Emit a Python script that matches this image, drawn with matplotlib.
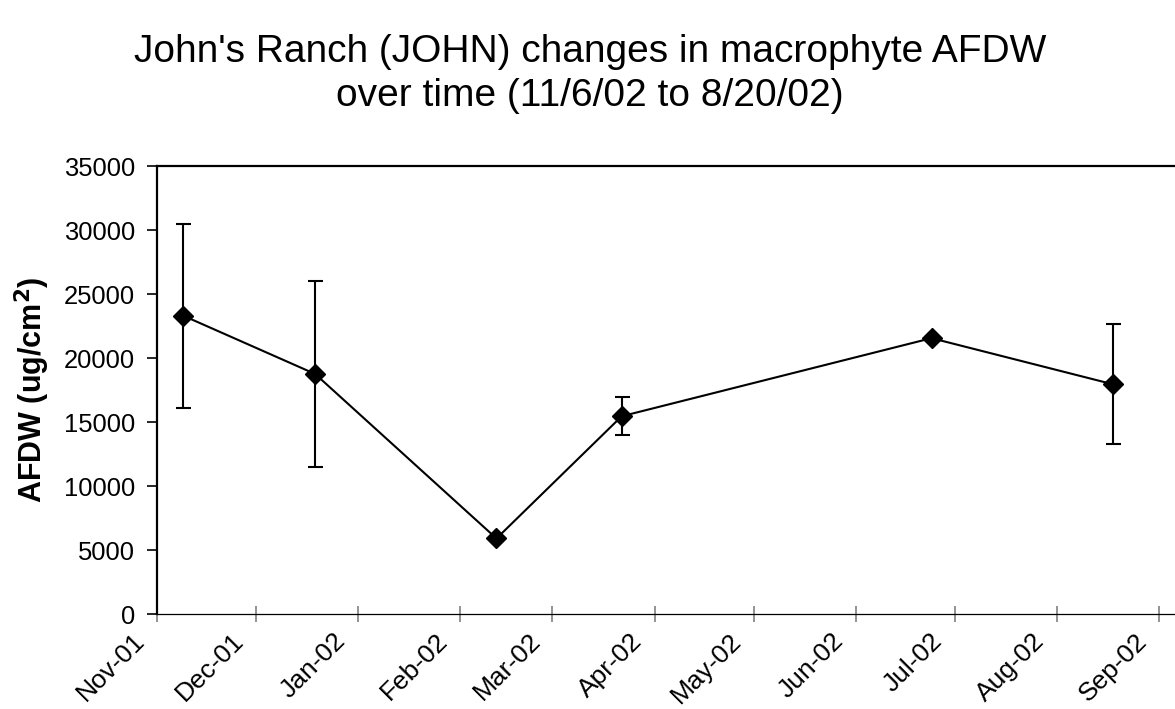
import datetime as dt
import matplotlib
matplotlib.use("Agg")
import matplotlib.pyplot as plt
import matplotlib.dates as mdates
from matplotlib.transforms import ScaledTranslation

plt.rcParams['font.family'] = ['Liberation Sans', 'DejaVu Sans']

# Sampling dates, mean AFDW and standard error per sampling trip
sample_dates = [
    dt.date(2001, 11, 9),
    dt.date(2001, 12, 19),
    dt.date(2002, 2, 12),
    dt.date(2002, 3, 22),
    dt.date(2002, 6, 24),
    dt.date(2002, 8, 18),
]
afdw_mean = [23300, 18750, 5900, 15450, 21550, 17950]
afdw_err = [7200, 7250, 0, 1500, 0, 4700]

y_ticks = [0, 5000, 10000, 15000, 20000, 25000, 30000, 35000]
title_text = "John's Ranch (JOHN) changes in macrophyte AFDW\nover time (11/6/02 to 8/20/02)"
y_label = r"AFDW (ug/cm$^\mathbf{2}$)"

W, H = 1175, 709
fig = plt.figure(figsize=(W / 100, H / 100), dpi=100)
left, right, bottom, top = 157, 1182, 614, 166
ax = fig.add_axes([left / W, (H - bottom) / H, (right - left) / W, (bottom - top) / H])

# error bars underneath, then the connected diamond markers on top
ax.errorbar(sample_dates, afdw_mean, yerr=afdw_err, fmt='none', ecolor='black',
            elinewidth=1.5, capsize=5.4, capthick=1.5, zorder=2)
ax.plot(sample_dates, afdw_mean, color='black', marker='D', markersize=10.5,
        linewidth=1.5, zorder=4)

ax.set_xlim(dt.date(2001, 11, 1), dt.date(2002, 9, 8))
ax.set_ylim(0, 35000)
ax.set_yticks(y_ticks)

ax.xaxis.set_major_locator(mdates.MonthLocator())
ax.xaxis.set_major_formatter(mdates.DateFormatter('%b-%y'))

ax.tick_params(axis='x', direction='inout', length=11.5, width=1.2,
               color='#808080', labelsize=19, pad=11)
ax.tick_params(axis='y', direction='out', length=7, width=1.2,
               color='black', labelsize=18.4, pad=9)

shift = ScaledTranslation(-16 / 100, 0, fig.dpi_scale_trans)
for lab in ax.get_xticklabels():
    lab.set_rotation(45)
    lab.set_ha('right')
    lab.set_va('center')
    lab.set_rotation_mode('anchor')
    lab.set_transform(lab.get_transform() + shift)

ax.spines['right'].set_visible(False)
ax.spines['left'].set_linewidth(1.6)
ax.spines['top'].set_linewidth(1.6)
ax.spines['bottom'].set_linewidth(0.9)

ax.set_ylabel(y_label, fontsize=22, fontweight='bold', labelpad=8)

fig.text(590 / W, (H - 74) / H, title_text,
         ha='center', va='center', fontsize=28, linespacing=1.25)

fig.savefig('out.png', dpi=100)
